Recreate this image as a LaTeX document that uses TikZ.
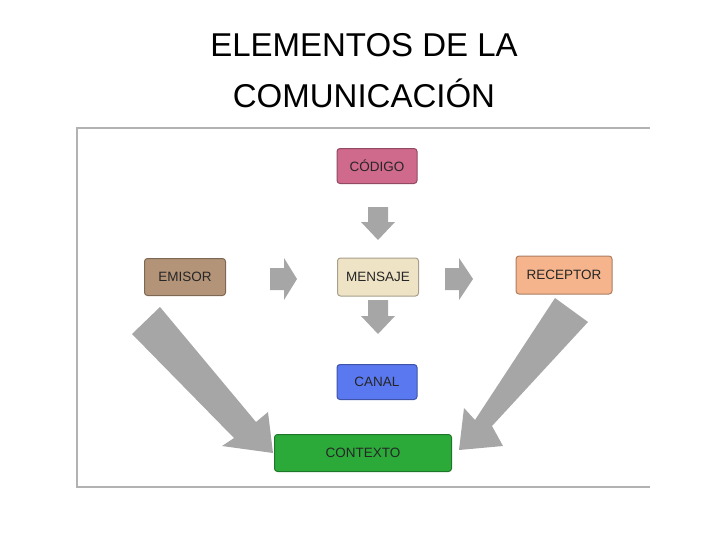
\documentclass[tikz,border=0pt]{standalone}
\usepackage{fontspec}
\setmainfont{Liberation Sans}
\begin{document}
\begin{tikzpicture}[x=1pt,y=-1pt,
  box/.style={draw=#1!70!black, fill=#1, rounded corners=3pt, line width=1pt, font=\fontsize{13.5}{15}\selectfont, text=black!85},
  garrow/.style={fill=gray!70, draw=none}]
\definecolor{cpink}{HTML}{D06A8C}
\definecolor{cbrown}{HTML}{B39478}
\definecolor{ccream}{HTML}{EFE3C6}
\definecolor{cpeach}{HTML}{F5B48C}
\definecolor{cblue}{HTML}{5A78F0}
\definecolor{cgreen}{HTML}{2BAA3A}
\useasboundingbox (0,0) rectangle (728,546);
\node (t1) at (364,45) {\fontsize{33}{36}\selectfont ELEMENTOS DE LA};
\node (t2) at (364,93) {\fontsize{33}{36}\selectfont COMUNICACIÓN};
\draw[gray!60, line width=1.2pt] (650,128) -- (77,128) -- (77,487) -- (650,487);
\node[box=cpink, minimum width=80, minimum height=35] (cod) at (377,166) {CÓDIGO};
\node[box=cbrown, minimum width=81, minimum height=37] (emi) at (185,277) {EMISOR};
\node[box=ccream, minimum width=81, minimum height=38] (men) at (378,277) {MENSAJE};
\node[box=cpeach, minimum width=96, minimum height=38] (rec) at (564,275) {RECEPTOR};
\node[box=cblue, minimum width=80, minimum height=35] (can) at (377,382) {CANAL};
\node[box=cgreen, minimum width=177, minimum height=37] (con) at (363,453) {CONTEXTO};
% small arrows
\fill[garrow] (368,207) -- (388,207) -- (388,222) -- (395,222) -- (378,240) -- (361,222) -- (368,222) -- cycle;
\fill[garrow] (368,300) -- (388,300) -- (388,316) -- (395,316) -- (378,334) -- (361,316) -- (368,316) -- cycle;
\fill[garrow] (270,268) -- (284,268) -- (284,258) -- (297,279) -- (284,300) -- (284,290) -- (270,290) -- cycle;
\fill[garrow] (445,268) -- (459,268) -- (459,258) -- (473,279) -- (459,300) -- (459,290) -- (445,290) -- cycle;
% big arrows (tapering)
\fill[garrow] (160,307) -- (132,334) -- (234,438) -- (222,446) -- (273,453) -- (268,412) -- (256,422) -- cycle;
\fill[garrow] (555,298) -- (588,322) -- (492,426) -- (503,446) -- (459,450) -- (464,408) -- (475,420) -- cycle;
\end{tikzpicture}
\end{document}
